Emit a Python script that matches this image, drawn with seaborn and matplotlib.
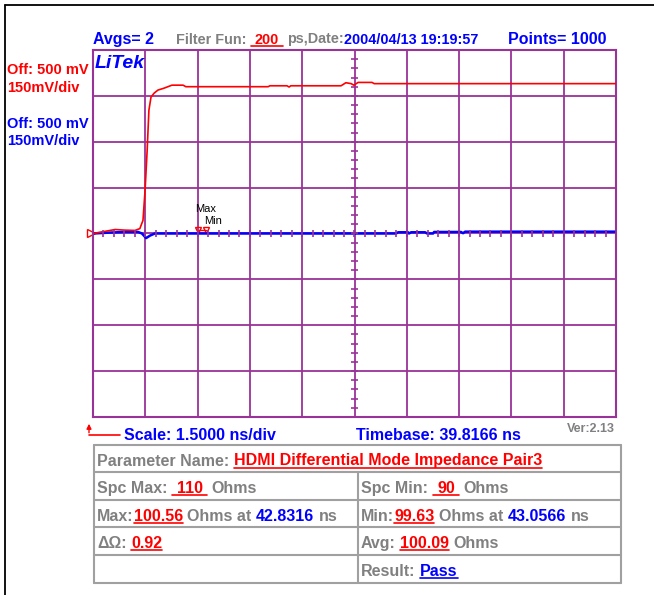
import numpy as np
import matplotlib
matplotlib.use("Agg")
import matplotlib.pyplot as plt
import seaborn as sns

# Scope settings
offset_mv = 500
mv_per_div = 150
t0_ns = 39.8166
ns_per_div = 1.5
n_xdiv, n_ydiv = 10, 8

# Traces (time in ns, level in mV)
red_t = [39.82, 40.16, 40.45, 40.73, 41.02, 41.16, 41.25, 41.31, 41.37, 41.42, 41.48, 41.57,
         41.68, 41.85, 42.08, 42.40, 42.48, 44.84, 44.89, 45.38, 45.44, 45.49, 46.93, 47.07,
         47.22, 47.30, 47.42, 47.82, 47.88, 54.82]
red_mv = [500, 507, 513, 511, 510, 516, 543, 641, 772, 903, 946, 959,
          969, 975, 985, 985, 980, 980, 983, 983, 979, 983, 983, 993,
          990, 985, 994, 994, 990, 990]
blue_t = [39.82, 40.30, 40.73, 41.11, 41.22, 41.34, 41.45, 41.59, 48.51, 48.57, 48.85, 48.88,
          48.94, 49.34, 49.40, 49.57, 49.60, 50.37, 50.43, 50.49, 54.82]
blue_mv = [500, 503, 505, 505, 500, 485, 493, 500, 500, 504, 504, 500,
           504, 504, 500, 500, 505, 505, 501, 506, 506]

# Results table values
param_name = "HDMI Differential Mode Impedance Pair3"
spec_max, spec_min = "110", "90"
max_ohm, max_time = "100.56", "42.8316"
min_ohm, min_time = "99.63", "43.0566"
delta_ohm, avg_ohm = "0.92", "100.09"
result = "Pass"

sns.set_style("white")
plt.rcParams["font.family"] = ["Liberation Sans", "DejaVu Sans"]

purple = "#993399"
red = "#ff0000"
blue = "#0000ff"
grey = "#808080"

W, H = 654, 595
fig = plt.figure(figsize=(W / 100, H / 100), dpi=100)
L, R, T, B = 93, 616, 50, 417
ax = fig.add_axes([L / W, 1 - B / H, (R - L) / W, (B - T) / H])

t_end = t0_ns + n_xdiv * ns_per_div
v_lo = offset_mv - n_ydiv / 2 * mv_per_div
v_hi = offset_mv + n_ydiv / 2 * mv_per_div
t_mid = t0_ns + n_xdiv / 2 * ns_per_div

ax.set_xlim(t0_ns, t_end)
ax.set_ylim(v_lo, v_hi)
ax.set_xticks(np.linspace(t0_ns, t_end, n_xdiv + 1))
ax.set_yticks(np.linspace(v_lo, v_hi, n_ydiv + 1))
ax.grid(True, color=purple, lw=1.3)
ax.set_axisbelow(True)
ax.tick_params(length=0, labelbottom=False, labelleft=False)
for s in ax.spines.values():
    s.set_color(purple)
    s.set_linewidth(1.5)

# center axes with minor ticks
minor_t = np.arange(t0_ns, t_end + 1e-9, ns_per_div / 5)
minor_v = np.arange(v_lo, v_hi + 1e-9, mv_per_div / 5)
ax.vlines(minor_t, offset_mv - 10, offset_mv + 10, color=purple, lw=1.2, zorder=5)
ax.hlines(minor_v, t_mid - 0.09, t_mid + 0.09, color=purple, lw=1.2, zorder=5)

sns.lineplot(x=blue_t, y=blue_mv, ax=ax, color=blue, lw=1.8, estimator=None, sort=False, zorder=4)
sns.lineplot(x=red_t, y=red_mv, ax=ax, color=red, lw=1.2, estimator=None, sort=False, zorder=4)

# channel marker and max/min markers
ax.plot([t0_ns - 0.07], [offset_mv], marker=">", ms=6, mfc="none", mec=red, clip_on=False)
ax.plot([float(max_time), float(min_time)], [offset_mv + 12] * 2, marker="v", ms=4,
        color=red, lw=1, mfc="none")

# overlay in pixel coordinates for all the screen text
ov = fig.add_axes([0, 0, 1, 1])
ov.set_xlim(0, W)
ov.set_ylim(H, 0)
ov.axis("off")
renderer = fig.canvas.get_renderer()


def text_w(s, **kw):
    if not s:
        return 0
    t = ov.text(0, 0, "|" + s + "|", **kw)
    w1 = t.get_window_extent(renderer).width
    t.remove()
    t = ov.text(0, 0, "||", **kw)
    w2 = t.get_window_extent(renderer).width
    t.remove()
    return w1 - w2


def rich(x, y, parts, size, weight="bold", style="normal"):
    for s, c, ul in parts:
        kw = dict(fontsize=size, fontweight=weight, fontstyle=style, color=c)
        lead = len(s) - len(s.lstrip())
        ov.text(x + text_w(s[:lead], **kw), y, s.strip(), va="baseline", ha="left", **kw)
        w = text_w(s, **kw)
        if ul:
            ov.plot([x, x + w], [y + 2, y + 2], color=c, lw=1.2)
        x += w


# header
rich(93, 44, [("Avgs= 2", blue, False)], 11.5)
rich(176, 43.5, [("Filter Fun: ", grey, False), (" 200 ", red, True), (" ps,Date:", grey, False),
                 ("2004/04/13 19:19:57", blue, False)], 10.4)
rich(508, 43.5, [("Points= 1000", blue, False)], 11.5)
rich(95, 68, [("LiTek", blue, False)], 14, style="italic")

# channel labels
rich(7, 74.3, [("Off: 500 mV", red, False)], 10.5)
rich(7, 91.7, [("150mV/div", red, False)], 10.5)
rich(7, 128.3, [("Off: 500 mV", blue, False)], 10.5)
rich(7, 145, [("150mV/div", blue, False)], 10.5)

ov.text(195, 212.5, "Max", fontsize=8, color="black", va="baseline")
ov.text(204, 224.5, "Min", fontsize=8, color="black", va="baseline")

# bottom line
ov.annotate("", xy=(89, 421), xytext=(89, 435.5),
            arrowprops=dict(arrowstyle="-|>", color=red, lw=1, mutation_scale=7))
ov.plot([89, 120], [435, 435], color=red, lw=1.2)
rich(124.5, 439.5, [("Scale: 1.5000 ns/div", blue, False)], 11.5)
rich(356, 439.5, [("Timebase: 39.8166 ns", blue, False)], 11.5)
ov.text(615, 431.5, "Ver:2.13", fontsize=9, fontweight="bold", color=grey, ha="right", va="baseline")

# results table
tl, tr, tm = 93.6, 620.5, 357.5
row_h = 27.6
rows = [444.5 + i * row_h for i in range(6)]
for y in rows:
    ov.plot([tl, tr], [y, y], color="#a0a0a0", lw=1.5)
ov.plot([tl, tl], [rows[0], rows[-1]], color="#a0a0a0", lw=1.5)
ov.plot([tr, tr], [rows[0], rows[-1]], color="#a0a0a0", lw=1.5)
ov.plot([tm, tm], [rows[1], rows[-1]], color="#a0a0a0", lw=1.5)

base = [y + 21 for y in rows[:5]]
fs = 11.5
rich(97, base[0], [("Parameter Name: ", grey, False), (param_name, red, True)], fs)
rich(97, base[1], [("Spc Max: ", grey, False), (" " + spec_max + " ", red, True), (" Ohms", grey, False)], fs)
rich(361, base[1], [("Spc Min: ", grey, False), (" " + spec_min + " ", red, True), (" Ohms", grey, False)], fs)
rich(97, base[2], [("Max:", grey, False), (max_ohm, red, True), (" Ohms at ", grey, False),
                   (max_time, blue, False), (" ns", grey, False)], fs)
rich(361, base[2], [("Min:", grey, False), (min_ohm, red, True), (" Ohms at ", grey, False),
                    (min_time, blue, False), (" ns", grey, False)], fs)
rich(97, base[3], [("ΔΩ: ", grey, False), (delta_ohm, red, True)], fs)
rich(361, base[3], [("Avg: ", grey, False), (avg_ohm, red, True), (" Ohms", grey, False)], fs)
rich(361, base[4], [("Result: ", grey, False), (result, blue, True)], fs)

# outer frame (left and top)
ov.plot([4.5, 4.5], [5, H], color="black", lw=1.3)
ov.plot([4.5, W], [5, 5], color="black", lw=1.3)

fig.savefig("out.png", dpi=100)
